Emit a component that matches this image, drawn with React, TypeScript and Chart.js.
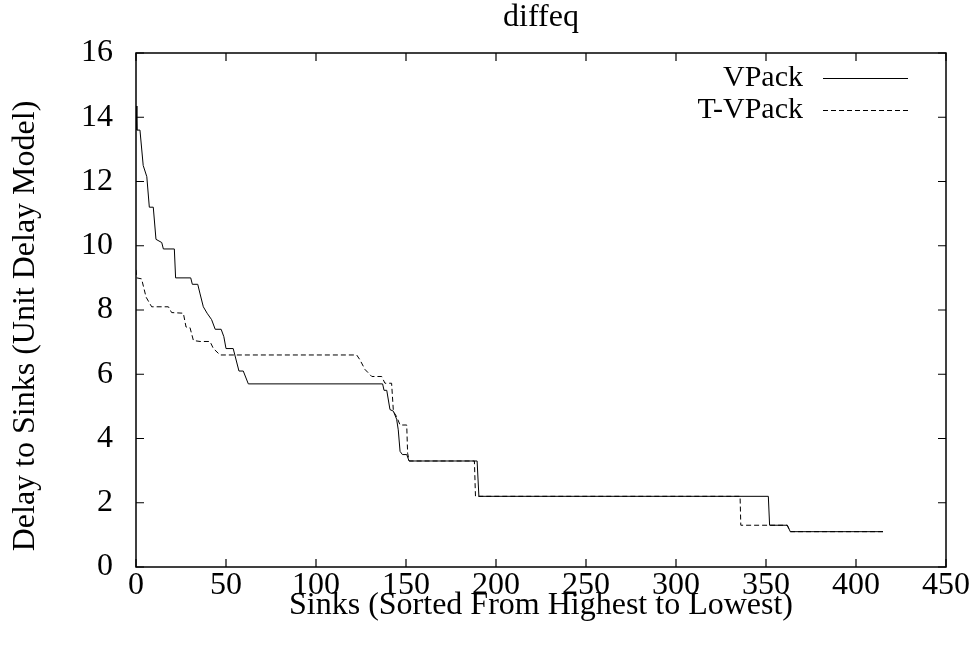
import React, { useEffect, useRef } from "react";
import { Chart, registerables } from "chart.js";

Chart.register(...registerables);

const chartTitle = "diffeq";
const xAxisTitle = "Sinks (Sorted From Highest to Lowest)";
const yAxisTitle = "Delay to Sinks (Unit Delay Model)";
const seriesNames = ["VPack", "T-VPack"];

const xTickValues = [0, 50, 100, 150, 200, 250, 300, 350, 400, 450];
const yTickValues = [0, 2, 4, 6, 8, 10, 12, 14, 16];

const vpackX = [0, 0.5, 2.2, 4, 6, 7.4, 9.6, 11.1, 14.3, 15.2, 21.3, 22, 30.4, 31.3, 34.3, 35.6, 37.4, 39.5, 42, 44, 47.3, 48.8, 50, 54, 57.2, 59.6, 62.4, 137, 137.8, 139.3, 141.1, 143, 144.8, 145.7, 146.7, 148, 150.4, 151.7, 189.5, 190.5, 351.3, 352, 361.8, 363.5, 415];
const vpackY = [14.35, 13.6, 13.6, 12.5, 12.15, 11.2, 11.2, 10.2, 10.1, 9.9, 9.9, 9.0, 9.0, 8.8, 8.8, 8.5, 8.1, 7.9, 7.7, 7.4, 7.4, 7.17, 6.8, 6.8, 6.1, 6.1, 5.7, 5.7, 5.5, 5.5, 4.9, 4.85, 4.6, 4.27, 3.6, 3.5, 3.5, 3.3, 3.3, 2.2, 2.2, 1.3, 1.3, 1.1, 1.1];

const tvpackX = [0, 0.4, 3.1, 5.6, 8.7, 18, 19.8, 26.3, 27.8, 30, 31.9, 35.6, 41.1, 43, 46.7, 122.6, 124.4, 127.2, 131, 136.5, 138.3, 142, 143, 144.8, 146.7, 150.4, 150.9, 151.8, 188, 188.6, 335.6, 336, 361.8, 363.5, 415];
const tvpackY = [9.25, 9.0, 8.97, 8.4, 8.1, 8.1, 7.92, 7.9, 7.47, 7.45, 7.05, 7.02, 7.02, 6.8, 6.6, 6.6, 6.45, 6.15, 5.93, 5.93, 5.72, 5.72, 4.84, 4.68, 4.42, 4.42, 3.54, 3.3, 3.3, 2.2, 2.2, 1.3, 1.3, 1.1, 1.1];

const FONT = "'Liberation Serif', 'Times New Roman', serif";
const FONT_SIZE = 32;
const LEGEND_FONT_SIZE = 30;
const DASH = [5, 3];

const toPoints = (xs: number[], ys: number[]) => xs.map((x, i) => ({ x, y: ys[i] }));

const framePlugin = {
  id: "gnuplotFrame",
  afterDraw(chart: any) {
    const ctx = chart.ctx as CanvasRenderingContext2D;
    const { left, right, top, bottom } = chart.chartArea;
    const xs = chart.scales.x;
    const ys = chart.scales.y;
    ctx.save();
    ctx.strokeStyle = "#000";
    ctx.lineWidth = 1.5;
    ctx.setLineDash([]);
    ctx.strokeRect(left, top, right - left, bottom - top);
    const tl = 8;
    ctx.lineWidth = 1.2;
    ctx.beginPath();
    xTickValues.forEach((v) => {
      const px = xs.getPixelForValue(v);
      ctx.moveTo(px, bottom);
      ctx.lineTo(px, bottom - tl);
      ctx.moveTo(px, top);
      ctx.lineTo(px, top + tl);
    });
    yTickValues.forEach((v) => {
      const py = ys.getPixelForValue(v);
      ctx.moveTo(left, py);
      ctx.lineTo(left + tl, py);
      ctx.moveTo(right, py);
      ctx.lineTo(right - tl, py);
    });
    ctx.stroke();

    ctx.fillStyle = "#000";
    ctx.font = `${FONT_SIZE}px ${FONT}`;
    ctx.textAlign = "center";
    ctx.textBaseline = "middle";
    ctx.fillText(chartTitle, (left + right) / 2, 18);
    ctx.fillText(xAxisTitle, (left + right) / 2, 606);
    ctx.save();
    ctx.translate(26, 326);
    ctx.rotate(-Math.PI / 2);
    ctx.fillText(yAxisTitle, 0, 0);
    ctx.restore();

    // legend
    ctx.font = `${LEGEND_FONT_SIZE}px ${FONT}`;
    const legendY = [78, 110];
    chart.data.datasets.forEach((ds: any, i: number) => {
      ctx.textAlign = "right";
      ctx.textBaseline = "middle";
      ctx.fillText(ds.label, 803, legendY[i]);
      ctx.beginPath();
      ctx.lineWidth = 1;
      ctx.setLineDash(ds.borderDash || []);
      ctx.moveTo(823, legendY[i] + 0.5);
      ctx.lineTo(908, legendY[i] + 0.5);
      ctx.stroke();
      ctx.setLineDash([]);
    });
    ctx.restore();
  },
};

export default function App() {
  const ref = useRef<HTMLCanvasElement | null>(null);
  useEffect(() => {
    const canvas = ref.current;
    if (!canvas) return;
    const chart = new Chart(canvas, {
      type: "line",
      data: {
        datasets: [
          {
            label: seriesNames[0],
            data: toPoints(vpackX, vpackY),
            borderColor: "#000",
            borderWidth: 1,
            pointRadius: 0,
            tension: 0,
            fill: false,
          },
          {
            label: seriesNames[1],
            data: toPoints(tvpackX, tvpackY),
            borderColor: "#000",
            borderWidth: 1,
            borderDash: DASH,
            pointRadius: 0,
            tension: 0,
            fill: false,
          },
        ],
      },
      options: {
        animation: false,
        responsive: false,
        devicePixelRatio: 1,
        layout: { padding: { left: 0, right: 32, top: 53, bottom: 0 } },
        plugins: { legend: { display: false }, tooltip: { enabled: false }, title: { display: false } },
        scales: {
          x: {
            type: "linear",
            min: 0,
            max: 450,
            afterFit: (s: any) => {
              s.height = 84;
            },
            afterBuildTicks: (s: any) => {
              s.ticks = xTickValues.map((v) => ({ value: v }));
            },
            grid: { display: false, drawTicks: false },
            border: { display: false },
            ticks: { color: "#000", font: { family: FONT, size: FONT_SIZE, lineHeight: 1 }, padding: 3, maxRotation: 0, autoSkip: false },
          },
          y: {
            type: "linear",
            min: 0,
            max: 16,
            afterFit: (s: any) => {
              s.width = 136;
            },
            afterBuildTicks: (s: any) => {
              s.ticks = yTickValues.map((v) => ({ value: v }));
            },
            grid: { display: false, drawTicks: false },
            border: { display: false },
            ticks: { color: "#000", font: { family: FONT, size: FONT_SIZE }, padding: 23, autoSkip: false },
          },
        },
      },
      plugins: [framePlugin],
    });
    return () => chart.destroy();
  }, []);
  return (
    <div style={{ position: "fixed", left: 0, top: 0, width: 978, height: 651, background: "#fff" }}>
      <canvas ref={ref} width={978} height={651} style={{ width: 978, height: 651, display: "block" }} />
    </div>
  );
}
